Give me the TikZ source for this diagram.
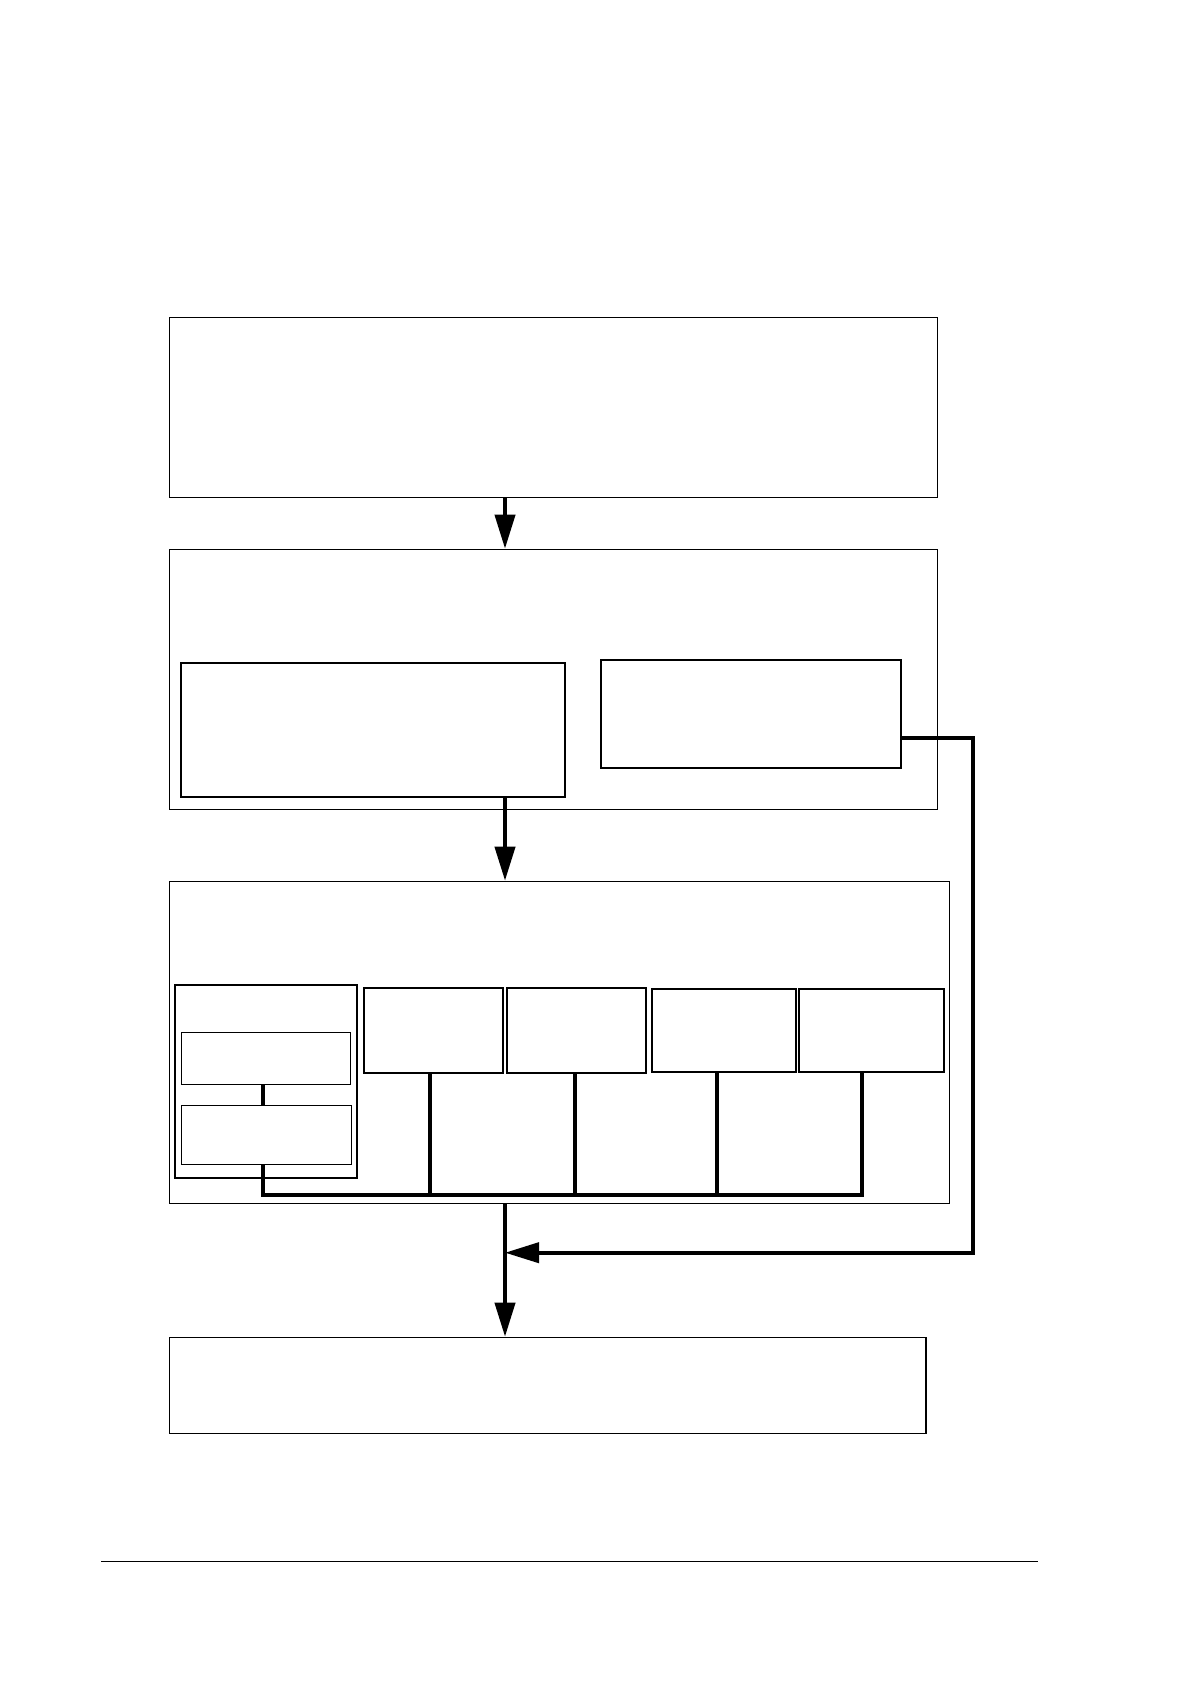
\documentclass[tikz,border=0pt]{standalone}
\usetikzlibrary{arrows.meta}
\begin{document}
\begin{tikzpicture}[x=0.5pt,y=-0.5pt]
		\useasboundingbox (0,0) rectangle (1190,1684);
		\coordinate (trunk) at (505,0);
		\coordinate (fbR) at (972.7,1252.7);
		\coordinate (busL) at (263,1195.3);
		\coordinate (busR) at (862,1195.3);
		\begin{scope}[every node/.style={draw, inner sep=0pt, line width=0.6pt}]
			\node (A)[minimum width=384pt, minimum height=90pt] at (553.3,407.3) {};
			\node (B)[minimum width=384pt, minimum height=130pt] at (553.3,679.3) {};
			\node (C)[minimum width=390.2pt, minimum height=161pt] at (559.5,1042.3) {};
			\node (D)[minimum width=378.3pt, minimum height=48pt] at (547.65,1385.3) {};
			\node (C11)[minimum width=84.7pt, minimum height=26pt] at (266,1058.3) {};
			\node (C12)[minimum width=85.2pt, minimum height=29.5pt] at (266.5,1134.8) {};
		\end{scope}
		\begin{scope}[every node/.style={draw, inner sep=0pt, line width=1.1pt}]
			\node (B1)[minimum width=192.15pt, minimum height=67.15pt] at (372.85,729.85) {};
			\node (B2)[minimum width=150.3pt, minimum height=54pt] at (751,714) {};
			\node (C1)[minimum width=91.3pt, minimum height=96.35pt] at (266,1081.35) {};
			\node (C2)[minimum width=69.65pt, minimum height=42.5pt] at (433.35,1030.2) {};
			\node (C3)[minimum width=69.8pt, minimum height=42.5pt] at (576.5,1030.2) {};
			\node (C4)[minimum width=72.3pt, minimum height=41.65pt] at (724,1030.35) {};
			\node (C5)[minimum width=72.65pt, minimum height=41.65pt] at (871.35,1030.35) {};
		\end{scope}
		\begin{scope}[every edge/.style={draw, line width=2pt}]
			\path [-{Triangle[length=17pt,width=10pt]}] (A.south -| trunk) edge (B.north -| trunk);
			\path [-{Triangle[length=17pt,width=10pt]}] (B1.south -| trunk) edge (C.north -| trunk);
			\path [-{Triangle[length=17pt,width=10pt]}] (C.south -| trunk) edge (D.north -| trunk);
			\path [-] (C11.south -| busL) edge (C12.north -| busL);
		\end{scope}
		\begin{scope}[line width=2pt]
			\draw (C12.south -| busL) -- (busL) -- (busR) -- (busR |- C5.south);
			\draw ([xshift=-1.8pt]C2.south) |- (busL);
			\draw ([xshift=-0.75pt]C3.south) |- (busL);
			\draw ([xshift=-3.65pt]C4.south) |- (busL);
			\draw [-{Triangle[length=17pt,width=10pt]}] ([yshift=-11.85pt]B2.east) -| (fbR) -- (fbR -| trunk);
		\end{scope}
		\draw [line width=0.5pt] (101,1561.5) -- (1038,1561.5);
	\end{tikzpicture}
\end{document}
